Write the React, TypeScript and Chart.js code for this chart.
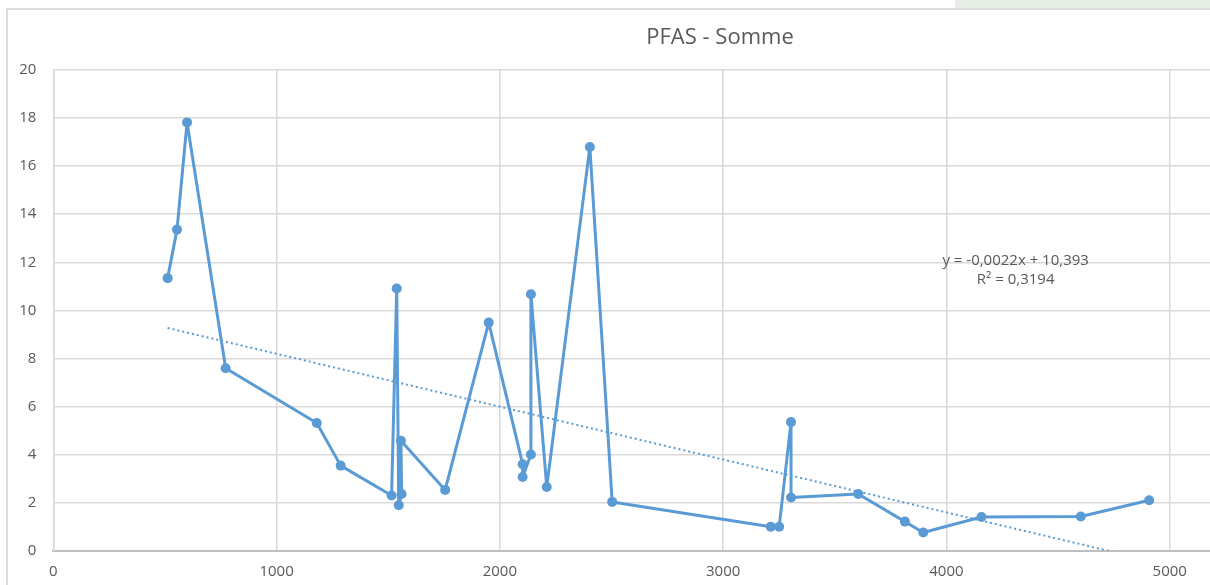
import React, { useEffect, useRef } from "react";
import { Chart, registerables } from "chart.js";

Chart.register(...registerables);

// Measured values (x = distance, y = PFAS sum), in the order the line connects them
const xValues = [512, 554, 599, 772, 1180, 1287, 1515, 1538, 1547, 1560, 1557, 1755, 1950, 2102, 2102, 2139, 2139, 2210, 2403, 2503, 3213, 3251, 3304, 3304, 3605, 3814, 3896, 4157, 4602, 4908];
const yValues = [11.34, 13.36, 17.82, 7.59, 5.31, 3.54, 2.3, 10.91, 1.89, 2.36, 4.57, 2.53, 9.49, 3.6, 3.07, 4.0, 10.67, 2.65, 16.8, 2.03, 1.0, 1.0, 5.35, 2.21, 2.36, 1.21, 0.76, 1.4, 1.42, 2.1];

// Linear trendline coefficients as shown on the chart
const trendSlope = -0.0022;
const trendIntercept = 10.393;
const equationLines = ["y = -0,0022x + 10,393", "R² = 0,3194"];

const chartTitle = "PFAS - Somme";
const xTickStep = 1000;
const yTickStep = 2;

const BLUE = "#5b9bd5";
const GREY_TEXT = "#595959";
const GRID = "#d9d9d9";
const FONT = "'Open Sans', 'DejaVu Sans', sans-serif";

export default function App() {
  const canvasRef = useRef<HTMLCanvasElement | null>(null);

  useEffect(() => {
    document.body.style.margin = "0";
    document.body.style.overflow = "hidden";
    const canvas = canvasRef.current;
    if (!canvas) return;

    const points = xValues.map((x, i) => ({ x, y: yValues[i] }));
    const xMin = Math.min(...xValues);
    const xMax = Math.max(...xValues);
    const trend = [
      { x: xMin, y: trendSlope * xMin + trendIntercept },
      { x: xMax, y: trendSlope * xMax + trendIntercept },
    ];

    const textPlugin = {
      id: "textLabels",
      afterDatasetsDraw(chart: any) {
        const { ctx, scales } = chart;
        ctx.save();
        ctx.fillStyle = GREY_TEXT;
        ctx.textAlign = "center";
        ctx.textBaseline = "middle";
        // chart title (centred on the full, wider original chart)
        ctx.font = `22px ${FONT}`;
        ctx.fillText(chartTitle, chart.width / 2, 28);
        // trendline equation
        const px = scales.x.getPixelForValue(4310);
        const py = scales.y.getPixelForValue(12.08);
        ctx.font = `15px ${FONT}`;
        ctx.fillText(equationLines[0], px, py);
        ctx.fillText(equationLines[1], px, py + 19);
        ctx.restore();
      },
    };

    const chart = new Chart(canvas, {
      type: "scatter",
      data: {
        datasets: [
          {
            label: "PFAS",
            data: points,
            showLine: true,
            borderColor: BLUE,
            backgroundColor: BLUE,
            borderWidth: 3,
            borderJoinStyle: "round",
            pointRadius: 5,
            pointHoverRadius: 5,
            pointBorderWidth: 0,
            tension: 0,
          },
          {
            label: "Linéaire (PFAS)",
            data: trend,
            showLine: true,
            borderColor: BLUE,
            borderWidth: 2,
            borderDash: [2, 3],
            pointRadius: 0,
            borderCapStyle: "butt",
          },
        ],
      },
      plugins: [textPlugin],
      options: {
        responsive: false,
        animation: false,
        events: [],
        layout: { padding: { left: 0, right: 39, top: 60, bottom: 0 } },
        plugins: {
          legend: { display: false },
          tooltip: { enabled: false },
          title: { display: false },
        },
        scales: {
          x: {
            type: "linear",
            min: 0,
            max: 6000,
            afterFit(scale: any) {
              scale.height = 34.3;
            },
            grid: { color: GRID, lineWidth: 1.5, drawTicks: false },
            border: { color: "#bfbfbf", width: 2 },
            ticks: {
              stepSize: xTickStep,
              color: GREY_TEXT,
              font: { family: FONT, size: 15 },
              padding: 12,
              callback: (v: any) => String(v),
            },
          },
          y: {
            type: "linear",
            min: 0,
            max: 20,
            afterFit(scale: any) {
              scale.width = 45.3;
            },
            grid: { color: GRID, lineWidth: 1.5, drawTicks: false },
            border: { color: GRID, width: 1.5 },
            ticks: {
              stepSize: yTickStep,
              color: GREY_TEXT,
              font: { family: FONT, size: 15 },
              padding: 17,
              callback: (v: any) => String(v),
            },
          },
        },
      },
    });

    return () => chart.destroy();
  }, []);

  return (
    <div>
      <div
        style={{
          position: "fixed",
          left: 955,
          top: 0,
          width: 255,
          height: 8,
          background: "#e6eee5",
        }}
      />
      <div
        style={{
          position: "fixed",
          left: 6,
          top: 8,
          width: 1204,
          height: 577,
          boxSizing: "border-box",
          borderLeft: "2px solid #dcdcdc",
          borderTop: "2px solid #dcdcdc",
          overflow: "hidden",
          background: "#ffffff",
        }}
      >
        <canvas
          ref={canvasRef}
          width={1424}
          height={575}
          style={{ display: "block", width: 1424, height: 575 }}
        />
      </div>
    </div>
  );
}
